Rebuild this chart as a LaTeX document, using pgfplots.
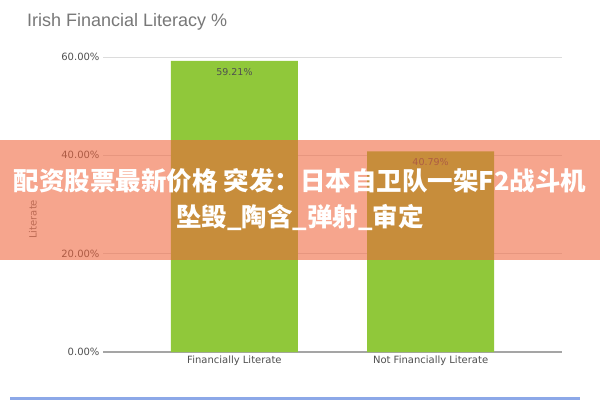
\documentclass[border=0pt]{standalone}
\usepackage{fontspec}
\setmainfont{DejaVu Sans}
\newfontfamily\titlefont{Liberation Sans}
\newfontfamily\cjk{Noto Sans CJK SC}
\usepackage{pgfplots}
\pgfplotsset{compat=1.18}

\definecolor{barGreen}{RGB}{144,200,58}
\definecolor{gridGray}{RGB}{220,220,220}
\definecolor{zeroGray}{RGB}{165,165,165}
\definecolor{tickGray}{RGB}{80,80,80}
\definecolor{titleGray}{RGB}{120,120,120}
\definecolor{bannerColor}{RGB}{240,100,60}
\definecolor{bottomBlue}{RGB}{140,168,232}

\begin{document}
\begin{tikzpicture}[x=1bp,y=1bp]
  \fill[white] (0,0) rectangle (600,400);
  \useasboundingbox (0,0) rectangle (600,400);
  \node[anchor=west, inner sep=0, text=titleGray,
        font=\titlefont\fontsize{18bp}{20bp}\selectfont] at (27,378) {Irish Financial Literacy \%};
  \begin{axis}[
      at={(103bp,48bp)}, anchor=south west,
      width=459bp, height=295bp, scale only axis,
      xmin=-0.67, xmax=1.67, ymin=0, ymax=60,
      ybar, bar width=127bp,
      xtick={0,1},
      xticklabels={Financially Literate, Not Financially Literate},
      ytick={0,20,40,60},
      yticklabels={0.00\%,20.00\%,40.00\%,60.00\%},
      major tick length=0,
      axis line style={draw=none},
      ymajorgrids,
      grid style={draw=gridGray, line width=1bp},
      extra y ticks={0}, extra y tick labels={},
      extra y tick style={grid style={draw=zeroGray, line width=1.4bp}},
      yticklabel style={font=\fontsize{10bp}{12bp}\selectfont, text=tickGray},
      xticklabel style={font=\fontsize{10bp}{12bp}\selectfont, text=tickGray},
      ylabel={Literate},
      ylabel style={at={(axis description cs:-0.153,0.45)}, anchor=center,
                    font=\fontsize{10bp}{12bp}\selectfont, text=titleGray},
      nodes near coords={\pgfmathprintnumber[fixed,fixed zerofill,precision=2,assume math mode=true]{\pgfplotspointmeta}\%},
      nodes near coords style={anchor=center, yshift=-11bp,
                               font=\fontsize{9.5bp}{11bp}\selectfont, text=tickGray},
    ]
    \addplot[fill=barGreen, draw=none] coordinates {(0,59.21) (1,40.79)};
  \end{axis}
  \fill[bannerColor, opacity=0.58] (0,140) rectangle (600,260);
  \node[text=white, align=center, inner sep=0,
        font=\cjk\bfseries\fontsize{25.5bp}{36bp}\selectfont] at (300,200)
        {配资股票最新价格 突发：日本自卫队一架F2战斗机\\坠毁\_陶含\_弹射\_审定};
  \fill[bottomBlue] (10,0) rectangle (580,3);
\end{tikzpicture}
\end{document}
